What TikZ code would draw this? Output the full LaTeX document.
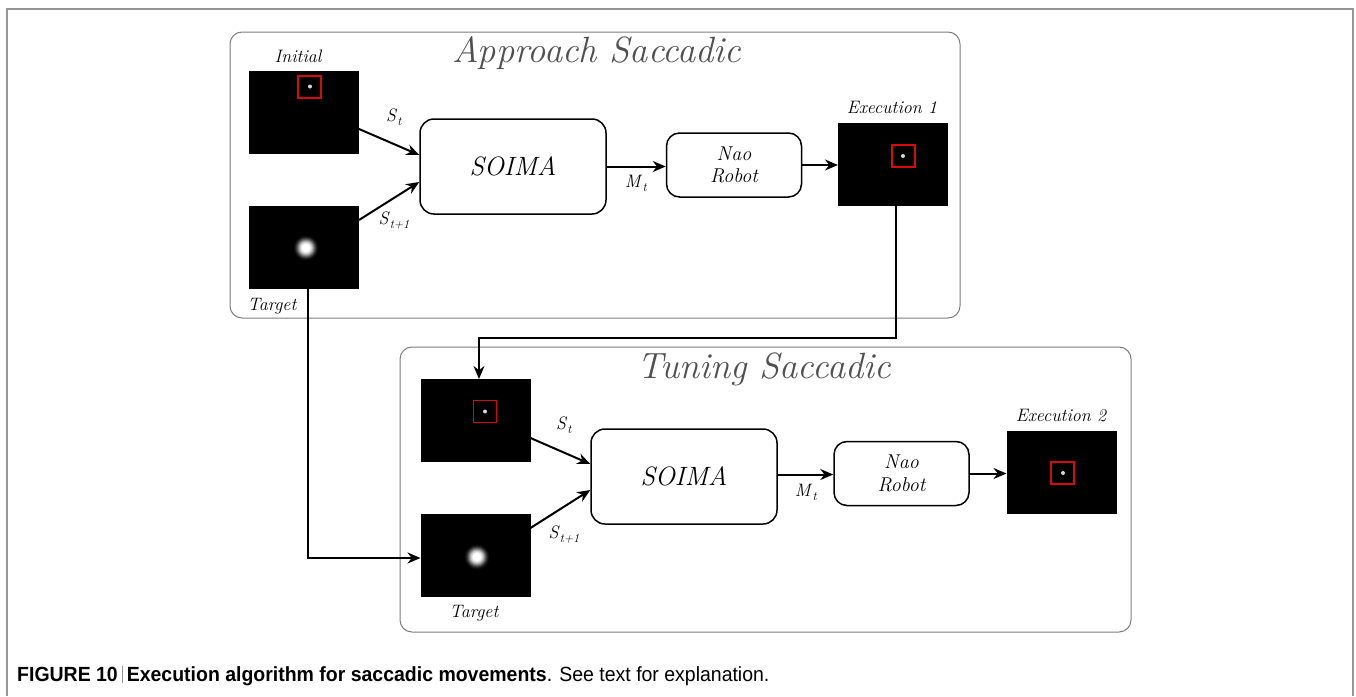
\documentclass[tikz,border=0pt]{standalone}
\usepackage{fontspec}
\newfontfamily\capfont[FakeStretch=0.95]{Liberation Sans}
\usetikzlibrary{arrows.meta,calc}
\definecolor{framegray}{RGB}{150,150,150}
\definecolor{boxgray}{RGB}{125,125,125}
\definecolor{titlegray}{RGB}{80,80,80}
\definecolor{redsq}{RGB}{215,10,10}
\definecolor{dotgray}{RGB}{215,215,215}
\newcommand{\symlab}[2]{\textit{#1}\raisebox{-4pt}{\fontsize{12.5}{13}\selectfont\textit{#2}}}
\newcommand{\blurspot}[1]{%
  \foreach \r/\p in {12.5/4,11.5/10,10.5/20,9.5/33,8.5/48,7.5/63,6.5/78,5.5/90,4.5/98,3.5/100}{%
    \fill[white!\p!black] #1 circle (\r pt);}}
\begin{document}
\begin{tikzpicture}[x=1pt,y=-1pt,
 img/.style={fill=black,draw=none,inner sep=0,outer sep=0,minimum width=110pt,minimum height=83pt},
 proc/.style={draw=black,line width=1.5pt,rounded corners=14pt,inner sep=0,minimum width=186pt,minimum height=95pt,font=\fontsize{26.5}{30}\selectfont\itshape},
 naobox/.style={draw=black,line width=1.5pt,rounded corners=13pt,align=center,minimum width=135pt,minimum height=64pt,font=\fontsize{20}{22.5}\selectfont\itshape,inner sep=0},
 container/.style={draw=boxgray,line width=1pt,rounded corners=12pt,inner sep=0},
 title/.style={text=titlegray,font=\fontsize{36.5}{40}\selectfont\itshape,inner sep=0,anchor=base},
 lab/.style={font=\fontsize{18}{20}\selectfont\itshape,inner sep=0,anchor=base},
 sym/.style={font=\fontsize{18}{20}\selectfont,inner sep=0},
 flow/.style={line width=2pt,-{Stealth[length=13pt,width=11pt]}},
 redbox/.style={draw=redsq,line width=1.7pt,minimum width=23pt,minimum height=22pt,inner sep=0},
 pix/.style={circle,fill=dotgray,inner sep=0,minimum size=4pt},
]
\useasboundingbox (0,0) rectangle (1356,696);
\draw[framegray,line width=1.2pt] (7,696) -- (7,9) -- (1353,9) -- (1353,696);

% containers
\node[container,minimum width=730pt,minimum height=286pt] (app) at (595,175) {};
\node[container,minimum width=731pt,minimum height=285pt] (tun) at (765.5,489.5) {};
\node[title] (apptitle) at (597,62) {Approach Saccadic};
\node[title] (tuntitle) at (764,378) {Tuning Saccadic};

% approach stage
\node[img] (init) at (304,112) {};
\node[redbox] (initrs) at (309.5,87) {};
\node[pix] (initdot) at (310,86.5) {};
\node[lab] (initlab) at (298,62) {Initial};
\node[img] (target) at (304,247) {};
\coordinate (spot1) at (306,248);
\blurspot{(spot1)}
\node[lab] (targetlab) at (272,310) {Target};
\node[proc] (soima1) at (513,166.5) {SOIMA};
\node[naobox] (nao1) at (734,165) {Nao\\Robot};
\node[img] (exec1) at (893,164.5) {};
\node[redbox] (exec1rs) at (903.5,156) {};
\node[pix] (exec1dot) at (903,156) {};
\node[lab] (exec1lab) at (892,113) {Execution 1};

\draw[flow] ([yshift=-17pt]init.east) -- ([yshift=11.5pt]soima1.west);
\draw[flow] ([yshift=27pt]target.east) -- ([yshift=-15.5pt]soima1.west);
\node[sym] (st1) at (394,117) {\symlab{S}{t}};
\node[sym] (stp1) at (394,220) {\symlab{S}{t+1}};
\draw[flow] (soima1.east) -- (soima1.east -| nao1.west);
\node[sym] (mt1) at (636,183) {\symlab{M}{t}};
\draw[flow] (nao1.east) -- (nao1.east -| exec1.west);

% tuning stage
\node[img] (tinit) at (475.5,420.5) {};
\node[redbox] (tinitrs) at (485,411.5) {};
\node[pix] (tinitdot) at (485,411.5) {};
\node[img] (ttarget) at (475.5,555.5) {};
\coordinate (spot2) at (477,557);
\blurspot{(spot2)}
\node[lab] (ttargetlab) at (474,617) {Target};
\node[proc] (soima2) at (684,476.5) {SOIMA};
\node[naobox] (nao2) at (901.5,473.5) {Nao\\Robot};
\node[img] (exec2) at (1061.5,472.5) {};
\node[redbox] (exec2rs) at (1062.5,473) {};
\node[pix] (exec2dot) at (1063,473) {};
\node[lab] (exec2lab) at (1061,421) {Execution 2};

\draw[flow] ([yshift=-17.5pt]tinit.east) -- ([yshift=12.5pt]soima2.west);
\draw[flow] ([yshift=27.5pt]ttarget.east) -- ([yshift=-13.5pt]soima2.west);
\node[sym] (st2) at (564,425) {\symlab{S}{t}};
\node[sym] (stp2) at (564,534) {\symlab{S}{t+1}};
\draw[flow] ([yshift=2pt]soima2.east) -- ([yshift=2pt]soima2.east -| nao2.west);
\node[sym] (mt2) at (806,492) {\symlab{M}{t}};
\draw[flow] (nao2.east) -- (nao2.east -| exec2.west);

% cross connectors
\draw[flow] ([xshift=3pt]exec1.south) -- ++(0,132) -| ([xshift=3.5pt]tinit.north);
\draw[flow] ([xshift=4pt]target.south) |- ([yshift=-2.5pt]ttarget.west);

% caption
\node[anchor=base west,inner sep=0,font=\capfont\fontsize{20.5}{24}\selectfont] (caption) at (17,681)
 {\textbf{FIGURE 10}\hspace{4pt}\textcolor{framegray}{\rule[-2pt]{1pt}{17pt}}\hspace{4pt}\textbf{Execution algorithm for saccadic movements}. See text for explanation.};
\end{tikzpicture}
\end{document}
